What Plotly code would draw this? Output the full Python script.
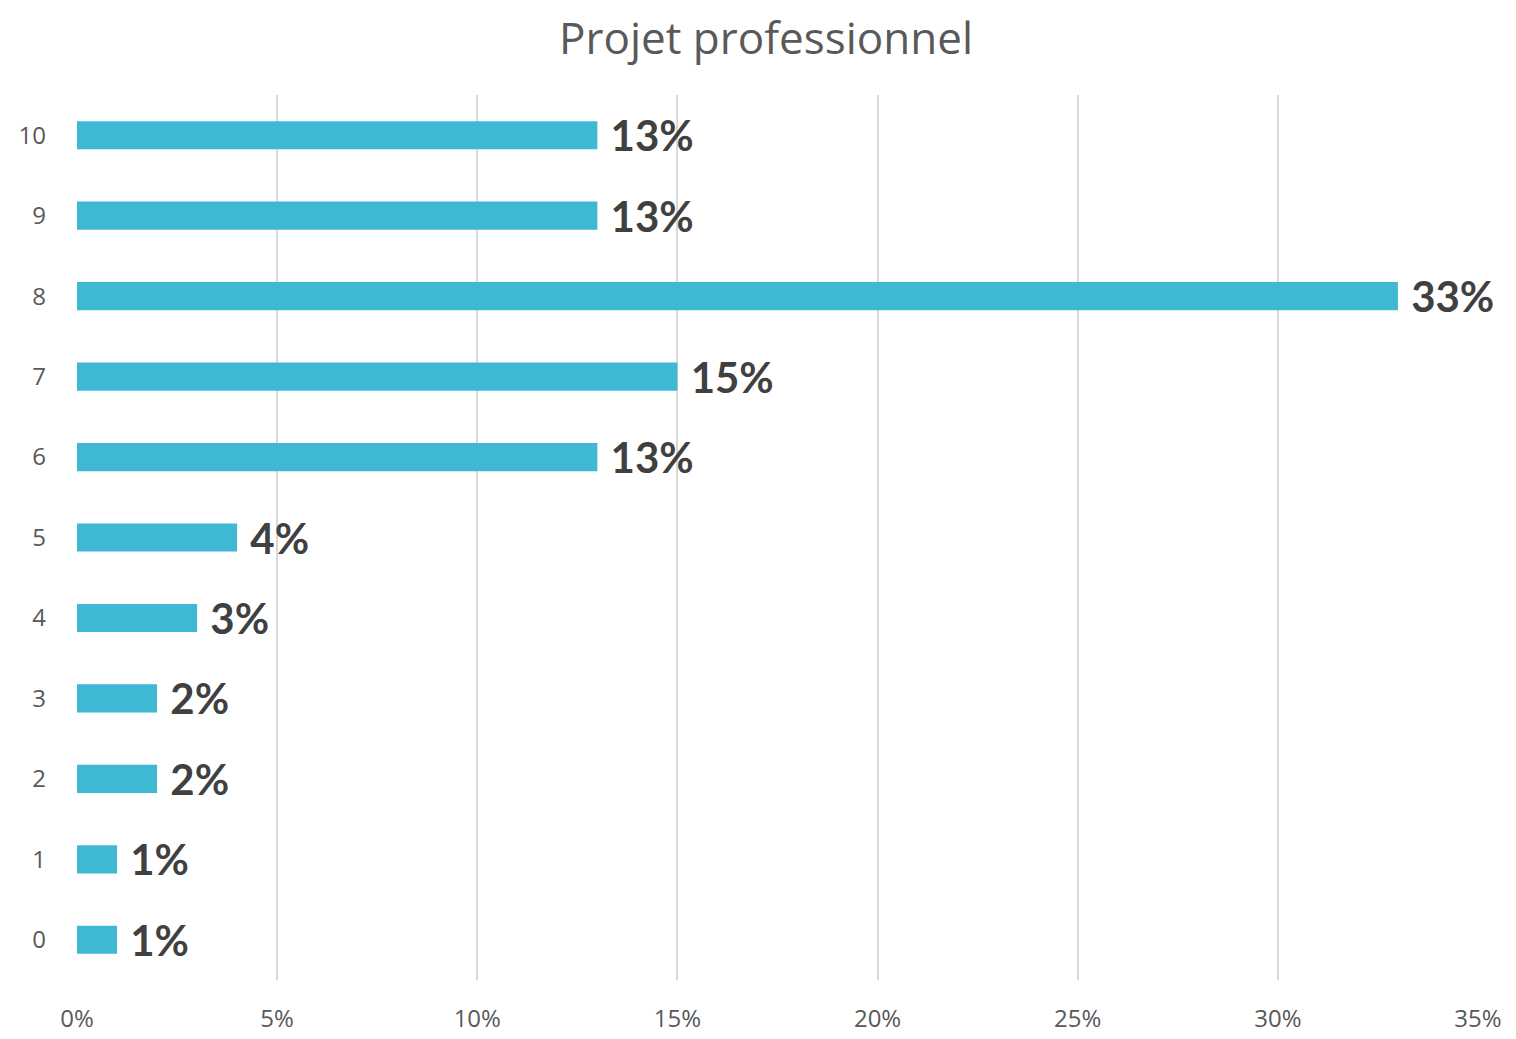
import plotly.graph_objects as go

categories = ["0", "1", "2", "3", "4", "5", "6", "7", "8", "9", "10"]
values = [1, 1, 2, 2, 3, 4, 13, 15, 33, 13, 13]
labels = ["1%", "1%", "2%", "2%", "3%", "4%", "13%", "15%", "33%", "13%", "13%"]
x_ticks = [0, 5, 10, 15, 20, 25, 30, 35]
x_tick_labels = ["0%", "5%", "10%", "15%", "20%", "25%", "30%", "35%"]

fig = go.Figure()
fig.add_trace(go.Bar(
    y=categories,
    x=values,
    orientation="h",
    width=0.35,
    marker=dict(color="#3FB9D3", line=dict(width=0)),
    text=labels,
    texttemplate=" %{text}",
    textposition="outside",
    constraintext="none",
    textfont=dict(family="Lato", size=42, color="#404040", weight="bold"),
    cliponaxis=False,
))

fig.update_layout(
    width=1516,
    height=1039,
    margin={'l': 69, 'r': 46, 't': 87, 'b': 67},
    plot_bgcolor="white",
    paper_bgcolor="white",
    showlegend=False,
    title=dict(
        text="Projet professionnel",
        x=0.5,
        xanchor="center",
        y=0.985,
        yanchor="top",
        font=dict(family="Open Sans", size=44, color="#595959"),
    ),
    xaxis=dict(
        range=[0, 35],
        tickvals=x_ticks,
        ticktext=x_tick_labels,
        showgrid=True,
        gridcolor="#D9D9D9",
        gridwidth=2,
        zeroline=False,
        showline=False,
        tickfont=dict(family="Open Sans", size=24, color="#595959"),
        ticks="",
        ticklabelstandoff=22,
    ),
    yaxis=dict(
        type="category",
        categoryorder="array",
        categoryarray=categories,
        range=[-0.5, 10.5],
        showgrid=False,
        zeroline=False,
        showline=False,
        tickfont=dict(family="Open Sans", size=24, color="#595959"),
        ticks="",
        ticklabelstandoff=30,
    ),
)

fig.write_html("out.html")
